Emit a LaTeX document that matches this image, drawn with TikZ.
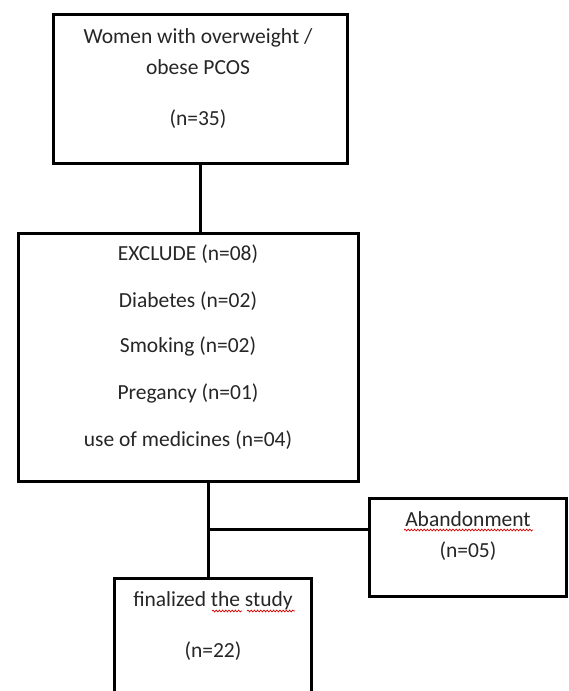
\documentclass[tikz,border=0pt]{standalone}
\usepackage{fontspec}
\setmainfont{Carlito}
\usetikzlibrary{decorations.pathmorphing}
\tikzset{
  box/.style={draw=black, line width=3pt, rectangle, inner sep=0pt, outer sep=0pt},
  lbl/.style={anchor=base, inner sep=0pt, text=black!85, font=\fontsize{21.5}{26}\selectfont},
  conn/.style={draw=black, line width=3pt},
  spell/.style={draw=red!85!black, line width=0.7pt, decorate, decoration={snake, amplitude=0.9pt, segment length=3.2pt}}
}
\begin{document}
\begin{tikzpicture}[x=1pt,y=-1pt]
\useasboundingbox[fill=white] (0,0) rectangle (569,691);
% boxes
\node[box, minimum width=294pt, minimum height=149pt] (top) at (200,88.5) {};
\node[box, minimum width=340pt, minimum height=248pt] (excl) at (188,357) {};
\node[box, minimum width=197pt, minimum height=98pt] (aband) at (467.5,547) {};
\node[box, minimum width=197pt, minimum height=142pt] (fin) at (212.5,649) {};
% texts
\node[lbl] (t1) at (198,43) {Women with overweight /};
\node[lbl] (t2) at (198,74) {obese PCOS};
\node[lbl] (t3) at (198,125) {(n=35)};
\node[lbl] (e1) at (188,260) {EXCLUDE (n=08)};
\node[lbl] (e2) at (188,307) {Diabetes (n=02)};
\node[lbl] (e3) at (188,352) {Smoking (n=02)};
\node[lbl] (e4) at (188,399) {Pregancy (n=01)};
\node[lbl] (e5) at (188,446) {use of medicines (n=04)};
\node[lbl] (a1) at (468,526) {Abandonment};
\node[lbl] (a2) at (468,557) {(n=05)};
\node[lbl] (f1) at (213,606) {finalized the study};
\node[lbl] (f2) at (213,657) {(n=22)};
% spell-check underlines
\draw[spell] (404,530) -- (533,530);
\draw[spell] (212,611) -- (242,611);
\draw[spell] (247,611) -- (295,611);
% connectors
\coordinate (j) at (208,529);
\draw[conn] (top.south) -- (top.south |- excl.north);
\draw[conn] (excl.south -| j) -- (fin.north -| j);
\draw[conn] (j) -- (j -| aband.west);
\end{tikzpicture}
\end{document}
